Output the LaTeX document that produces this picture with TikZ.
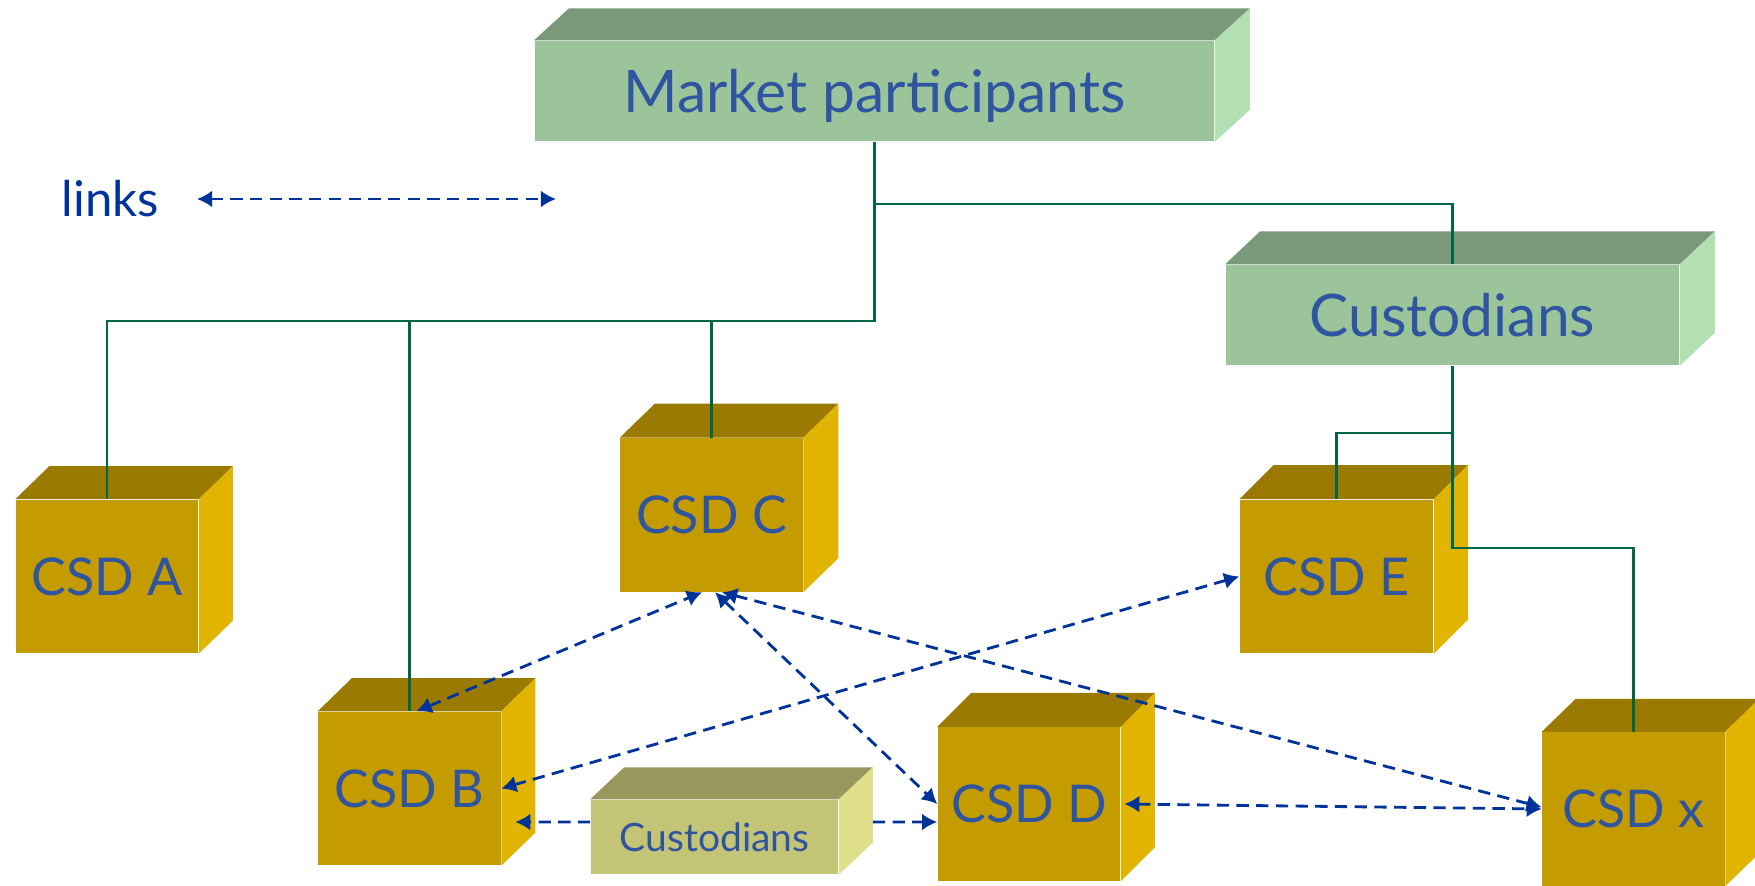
\documentclass[tikz,border=0pt]{standalone}
\usepackage{fontspec}
\setmainfont{Lato}
\usetikzlibrary{arrows.meta}
\definecolor{csdfront}{RGB}{196,156,0}
\definecolor{csdtop}{RGB}{154,122,0}
\definecolor{csdside}{RGB}{224,180,0}
\definecolor{grnfront}{RGB}{155,196,155}
\definecolor{grntop}{RGB}{122,152,122}
\definecolor{grnside}{RGB}{178,224,178}
\definecolor{olvfront}{RGB}{196,196,119}
\definecolor{olvtop}{RGB}{152,152,92}
\definecolor{olvside}{RGB}{224,224,138}
\definecolor{tblue}{RGB}{47,84,160}
\definecolor{lblue}{RGB}{0,51,153}
\definecolor{tgreen}{RGB}{0,102,72}
\tikzset{box/.style = {inner sep=0pt, text=tblue},
         csd/.style = {box, fill=csdfront, minimum width=1.82cm, minimum height=1.53cm,
                       font=\fontsize{14.8}{16}\selectfont},
         grn/.style = {box, fill=grnfront, minimum height=1cm,
                       font=\fontsize{16.7}{18}\selectfont},
         tree/.style = {draw=tgreen, line width=0.75pt},
         link/.style = {draw=lblue, line width=0.8pt, dash pattern=on 3.5pt off 2.1pt}}
% top and right faces of a box: node, top colour, side colour, depth x, depth y
\newcommand{\boxfaces}[5]{%
  \fill[#2] (#1.north west) -- (#1.north east) -- ++(#4,#5) -- ([shift={(#4,#5)}]#1.north west) -- cycle;
  \fill[#3] (#1.north east) -- (#1.south east) -- ++(#4,#5) -- ([shift={(#4,#5)}]#1.north east) -- cycle;}

\begin{document}
\begin{tikzpicture}[x=0.01cm, y=0.01cm, >={Latex[length=4.3pt,width=4.8pt]}]
    \useasboundingbox (0, 0) rectangle (1755, 885);
    \clip (0, 0) rectangle (1755, 885);

    \node [grn, minimum width=6.79cm, text depth=0pt] (mp) at (874.5, 794) {Market participants};
    \boxfaces{mp}{grntop}{grnside}{35}{32}
    \node [grn, minimum width=4.53cm] (cust) at (1452.5, 570) {Custodians};
    \boxfaces{cust}{grntop}{grnside}{35}{33}

    \node [csd] (csdA) at (107, 308.5) {CSD A};
    \boxfaces{csdA}{csdtop}{csdside}{34}{33}
    \node [csd] (csdC) at (711.5, 370) {CSD C};
    \boxfaces{csdC}{csdtop}{csdside}{35}{34}
    \node [csd] (csdB) at (409.5, 96.5) {CSD B};
    \boxfaces{csdB}{csdtop}{csdside}{34}{33}
    \node [csd] (csdD) at (1029, 81) {CSD D};
    \boxfaces{csdD}{csdtop}{csdside}{34}{34}
    \node [csd, minimum width=1.93cm] (csdE) at (1336.5, 308.5) {CSD E};
    \boxfaces{csdE}{csdtop}{csdside}{34}{34}
    \node [csd] (csdx) at (1633.5, 76) {CSD x};
    \boxfaces{csdx}{csdtop}{csdside}{34}{33}

    \node [box, fill=olvfront, minimum width=2.47cm, minimum height=0.74cm,
           font=\fontsize{11.1}{13}\selectfont] (cust2) at (714.5, 48) {Custodians};
    \boxfaces{cust2}{olvtop}{olvside}{34}{32}

    % legend
    \node [anchor=west, inner sep=0pt, text=lblue, font=\fontsize{14}{16}\selectfont] (links) at (61, 686) {links};
    \coordinate (lgA) at (197, 686);
    \coordinate (lgB) at (556, 686);
    \draw [link, <->] (lgA) -- (lgB);

    % ownership lines
    \coordinate (j0) at (874.5, 681);
    \coordinate (j1) at (874.5, 564);
    \draw [tree] (mp.south) -- (j1) -| (csdA.north);
    \draw [tree] (j1) -| (csdB.north);
    \draw [tree] (j1) -| (csdC.north);
    \draw [tree] (j0) -| (cust.north);
    \coordinate (j2) at (1452.5, 452);
    \coordinate (j3) at (1452.5, 337);
    \draw [tree] (cust.south) -- (j2) -| (csdE.north);
    \draw [tree] (j2) -- (j3) -| (csdx.north);

    % links
    \draw [link, <->] ([xshift=2pt]csdB.north) -- ([xshift=-2.7pt]csdC.south);
    \draw [link, <->] ([xshift=1pt]csdC.south) -- (csdD.west);
    \draw [link, <->] ([xshift=3pt]csdC.south) -- ([yshift=0.5pt]csdx.west);
    \draw [link, <->] (csdE.west) -- (csdB.east);
    \draw [link, <->] ([xshift=1pt]csdD.east) -- (csdx.west);
    \draw [link, ->] ([yshift=0.15cm]cust2.west) -- ([xshift=0.14cm, yshift=-0.335cm]csdB.east);
    \draw [link, ->] ([xshift=0.34cm, yshift=0.15cm]cust2.east) -- ([yshift=-0.18cm]csdD.west);
\end{tikzpicture}
\end{document}
